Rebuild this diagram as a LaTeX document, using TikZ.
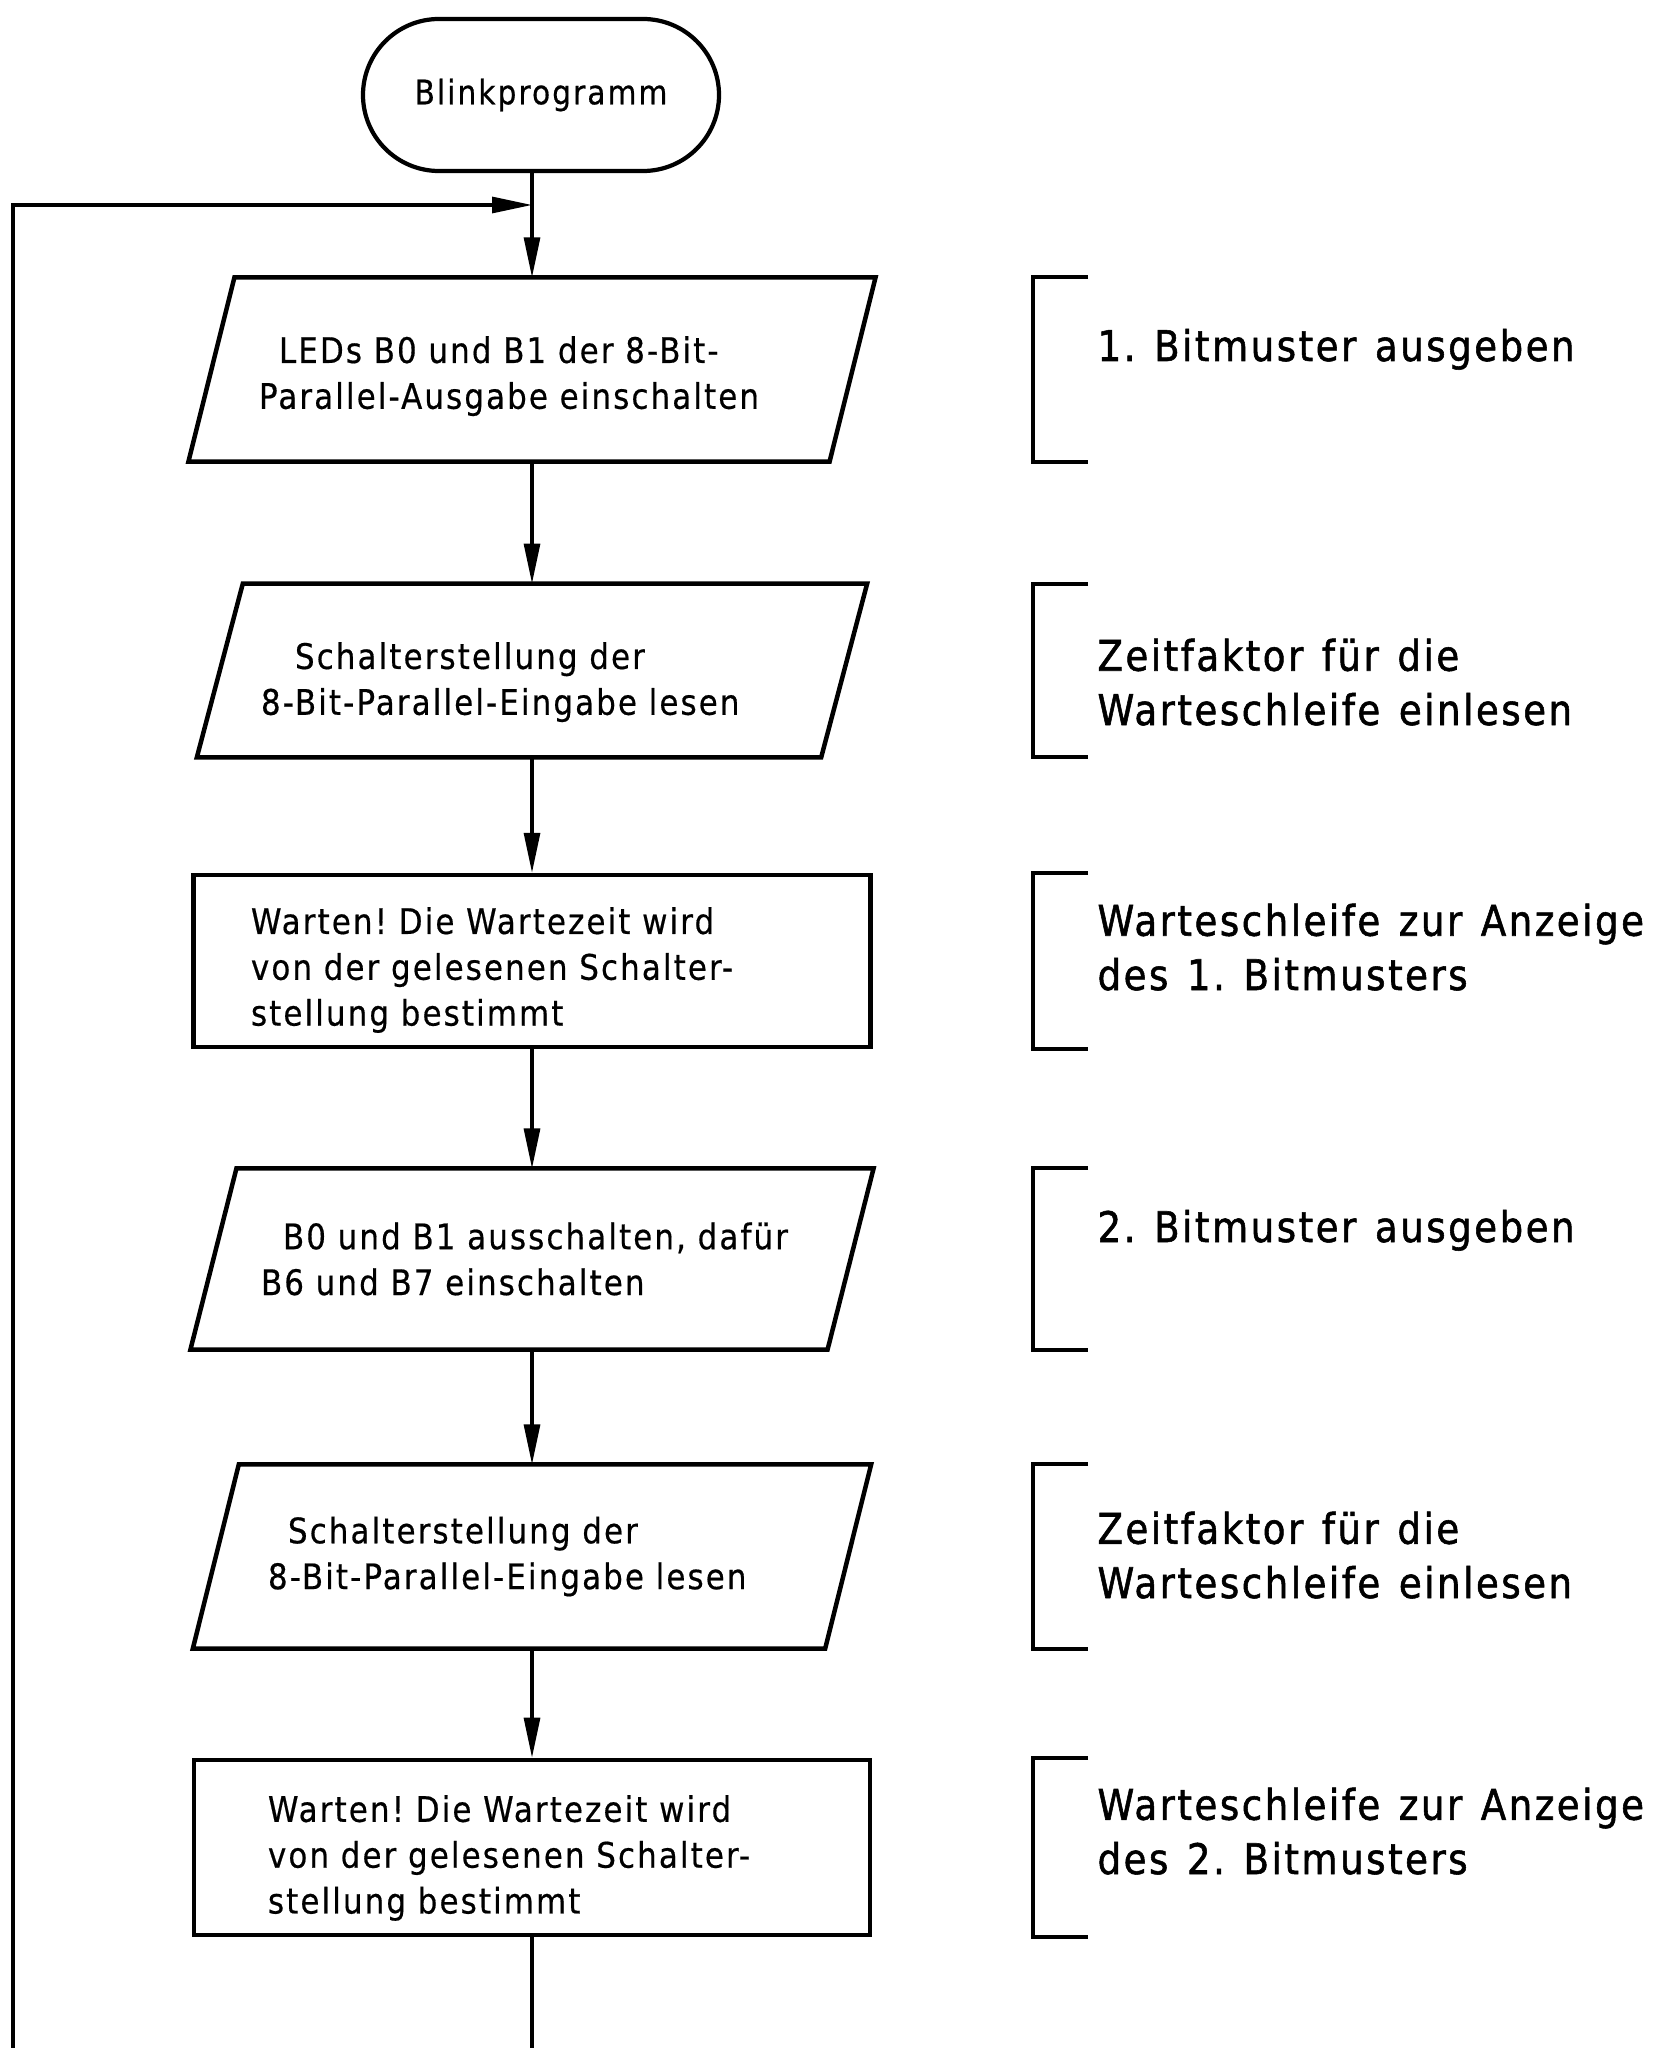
\documentclass[tikz,border=0pt]{standalone}
\usepackage{fontspec}
\setmainfont{DejaVu Sans}[FakeStretch=0.88, LetterSpace=6, WordSpace=1.3, FakeBold=0.5]
\newfontfamily\notefont{DejaVu Sans}[FakeStretch=0.88, LetterSpace=6, WordSpace=1.3, FakeBold=1.3]
\usetikzlibrary{arrows.meta}
\frenchspacing

\begin{document}
\begin{tikzpicture}[x=0.125mm, y=-0.125mm,
  boxfont/.style={font=\fontsize{12.5}{16.3}\selectfont},
  term/.style={draw, line width=1.5pt, rounded corners=9.5mm, minimum width=44.5mm,
               minimum height=19mm, inner sep=0pt, font=\fontsize{12}{16}\selectfont},
  iobox/.style={inner sep=0pt, align=left, boxfont},
  procbox/.style={draw, line width=1.6pt, inner sep=0pt, align=left, boxfont},
  iooutline/.style={draw, line width=1.6pt, line join=miter},
  conn/.style={line width=1.1pt},
  arr/.style={-{Triangle[length=5mm, width=2mm]}},
  bracket/.style={line width=1.4pt},
  note/.style={inner sep=0pt, align=left, font=\notefont\fontsize{15}{19.3}\selectfont}
]
\useasboundingbox (0,0) rectangle (1657,2048);

% start symbol
\node[term] (start) at (541,95) {Blinkprogramm};

% flow chart boxes
\node[iobox, minimum width=80mm, minimum height=22.9mm, text width=68.25mm] (p1) at (532,369.5)
  {\rule{0pt}{5mm}\hspace*{2.5mm}\mbox{LEDs B0 und B1 der 8-Bit-}\\\mbox{Parallel-Ausgabe einschalten}};
\node[iobox, minimum width=77.9mm, minimum height=21.6mm, text width=67.75mm] (p2) at (532,670.5)
  {\rule{0pt}{6.25mm}\hspace*{4.25mm}\mbox{Schalterstellung der}\\\mbox{8-Bit-Parallel-Eingabe lesen}};
\node[procbox, minimum width=84.6mm, minimum height=21.5mm, text width=70.25mm] (r1) at (532,961)
  {\rule{0pt}{5.6mm}\mbox{Warten! Die Wartezeit wird}\\\mbox{von der gelesenen Schalter-}\\\mbox{stellung bestimmt}};
\node[iobox, minimum width=79.5mm, minimum height=22.5mm, text width=67.75mm] (p3) at (532,1259)
  {\hspace*{2.75mm}\mbox{B0 und B1 ausschalten, dafür}\\\mbox{B6 und B7 einschalten}};
\node[iobox, minimum width=78.9mm, minimum height=22.9mm, text width=66mm] (p4) at (532,1556.5)
  {\hspace*{2.5mm}\mbox{Schalterstellung der}\\\mbox{8-Bit-Parallel-Eingabe lesen}};
\node[procbox, minimum width=84.5mm, minimum height=21.9mm, text width=66mm] (r2) at (532,1847.5)
  {\rule{0pt}{5.95mm}\mbox{Warten! Die Wartezeit wird}\\\mbox{von der gelesenen Schalter-}\\\mbox{stellung bestimmt}};

% slanted outlines of the input/output boxes
\def\halfslant{2.875mm}
\foreach \n in {p1,p2,p3,p4}
  \draw[iooutline] ([xshift=-\halfslant]\n.south west) -- ([xshift=-\halfslant]\n.south east)
    -- ([xshift=\halfslant]\n.north east) -- ([xshift=\halfslant]\n.north west) -- cycle;

% connectors
\coordinate (join) at (532,205);
\coordinate (loopstart) at (13,2048);
\coordinate (tail) at (532,2048);
\draw[conn, arr] (start.south -| p1.north) -- (p1.north);
\draw[conn, arr] (loopstart) |- (join);
\draw[conn, arr] (p1.south) -- (p2.north);
\draw[conn, arr] (p2.south) -- (r1.north);
\draw[conn, arr] (r1.south) -- (p3.north);
\draw[conn, arr] (p3.south) -- (p4.north);
\draw[conn, arr] (p4.south) -- (r2.north);
\draw[conn] (r2.south) -- (tail);

% comment brackets
\coordinate (bx) at (1033,0);
\coordinate (bxe) at (1088,0);
\foreach \n in {p1,p2,r1,p3,p4,r2}
  \draw[bracket] (\n.north -| bxe) -| (\n.south -| bx) -- (\n.south -| bxe);

% comments (anchored at the baseline of their last line)
\node[note, anchor=base west] (l1) at (1097,361) {1. Bitmuster ausgeben};
\node[note, anchor=base west] (l2) at (1097,725) {Zeitfaktor für die\\Warteschleife einlesen};
\node[note, anchor=base west] (l3) at (1097,990) {Warteschleife zur Anzeige\\des 1. Bitmusters};
\node[note, anchor=base west] (l4) at (1097,1242) {2. Bitmuster ausgeben};
\node[note, anchor=base west] (l5) at (1097,1598) {Zeitfaktor für die\\Warteschleife einlesen};
\node[note, anchor=base west] (l6) at (1097,1874) {Warteschleife zur Anzeige\\des 2. Bitmusters};
\end{tikzpicture}
\end{document}
